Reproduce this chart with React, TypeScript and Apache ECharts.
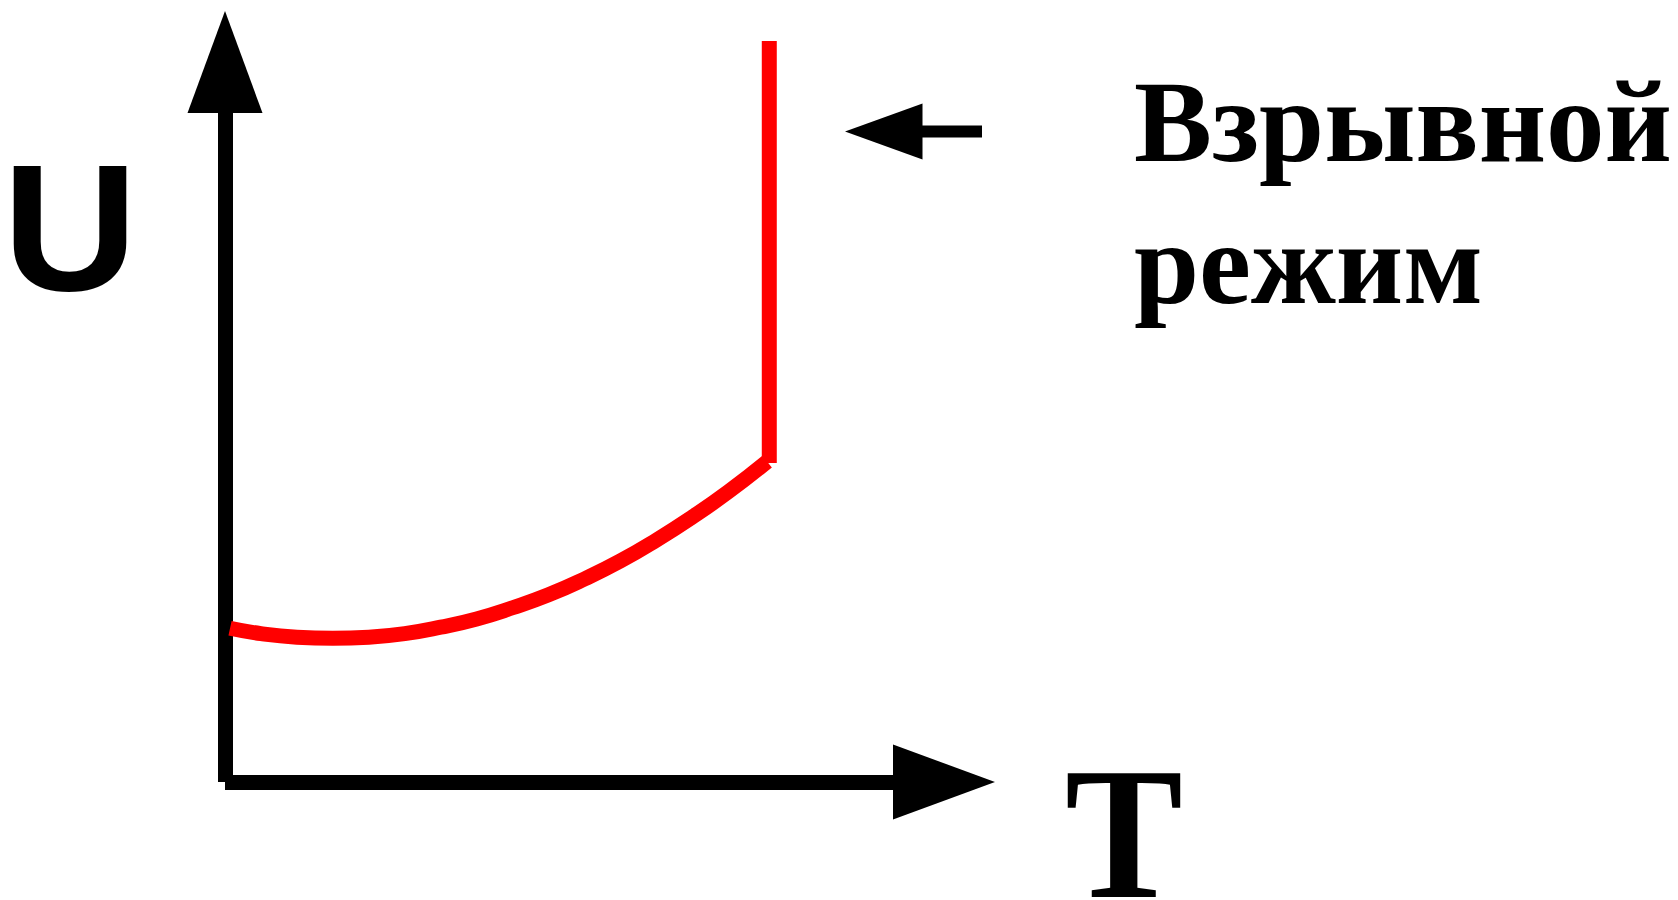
import React, { useEffect, useRef } from "react";
import * as echarts from "echarts";

// Red curve (T, U), in axis units 0..100
const curveT = [0.7, 5, 10, 15, 20, 25, 30, 35, 40, 45, 50, 55, 60, 65, 70, 75.4];
const curveU = [21.35, 20.6, 20.1, 19.95, 20.1, 20.6, 21.5, 22.65, 24.2, 26.0, 28.2, 30.7, 33.6, 36.8, 40.3, 44.5];
// Vertical jump (explosive regime)
const jumpT = [75.7, 75.7];
const jumpU = [44.3, 102.9];
// Texts
const axisNameT = "T";
const axisNameU = "U";
const labelLines = ["Взрывной", "режим"];

export default function App() {
  const ref = useRef<HTMLDivElement>(null);

  useEffect(() => {
    if (!ref.current) return;
    const chart = echarts.init(ref.current, undefined, { renderer: "svg" });

    const axisCommon = {
      type: "value" as const,
      min: 0,
      max: 100,
      axisLine: {
        show: true,
        onZero: false,
        symbol: ["none", "triangle"],
        symbolSize: [75, 102],
        lineStyle: { color: "#000000", width: 15, cap: "butt" },
      },
      axisTick: { show: false },
      axisLabel: { show: false },
      splitLine: { show: false },
    };

    const serifFont = "'Times New Roman', 'Liberation Serif', Tinos, Times, serif";
    const sansFont = "Arial, 'Liberation Sans', Arimo, Helvetica, sans-serif";

    chart.setOption({
      animation: false,
      backgroundColor: "#ffffff",
      grid: { left: 225, right: 734, top: 62, bottom: 118 },
      xAxis: axisCommon,
      yAxis: axisCommon,
      series: [
        {
          type: "line",
          data: curveT.map((t, i) => [t, curveU[i]]),
          smooth: true,
          symbol: "none",
          clip: false,
          lineStyle: { color: "#ff0000", width: 15, cap: "butt" },
        },
        {
          type: "line",
          data: jumpT.map((t, i) => [t, jumpU[i]]),
          symbol: "none",
          clip: false,
          lineStyle: { color: "#ff0000", width: 15, cap: "butt" },
        },
      ],
      graphic: [
        {
          type: "polygon",
          shape: { points: [[845, 131.5], [922.5, 103.5], [922.5, 159.5]] },
          style: { fill: "#000000" },
        },
        {
          type: "rect",
          shape: { x: 921, y: 125.5, width: 61, height: 12 },
          style: { fill: "#000000" },
        },
        {
          type: "text",
          x: 70,
          y: 228,
          scaleX: 1.04,
          style: {
            text: axisNameU,
            font: "bold 180px " + sansFont,
            fill: "#000000",
            align: "center",
            verticalAlign: "middle",
          },
        },
        {
          type: "text",
          x: 1124,
          y: 833,
          scaleX: 0.94,
          style: {
            text: axisNameT,
            font: "bold 188px " + serifFont,
            fill: "#000000",
            align: "center",
            verticalAlign: "middle",
          },
        },
        {
          type: "text",
          x: 1134,
          y: 121,
          style: {
            text: labelLines[0],
            font: "bold 117px " + serifFont,
            fill: "#000000",
            align: "left",
            verticalAlign: "middle",
          },
        },
        {
          type: "text",
          x: 1134,
          y: 263,
          style: {
            text: labelLines[1],
            font: "bold 117px " + serifFont,
            fill: "#000000",
            align: "left",
            verticalAlign: "middle",
          },
        },
      ],
    });

    return () => chart.dispose();
  }, []);

  return (
    <div
      ref={ref}
      style={{ position: "absolute", left: 0, top: 0, width: 1678, height: 900 }}
    />
  );
}
